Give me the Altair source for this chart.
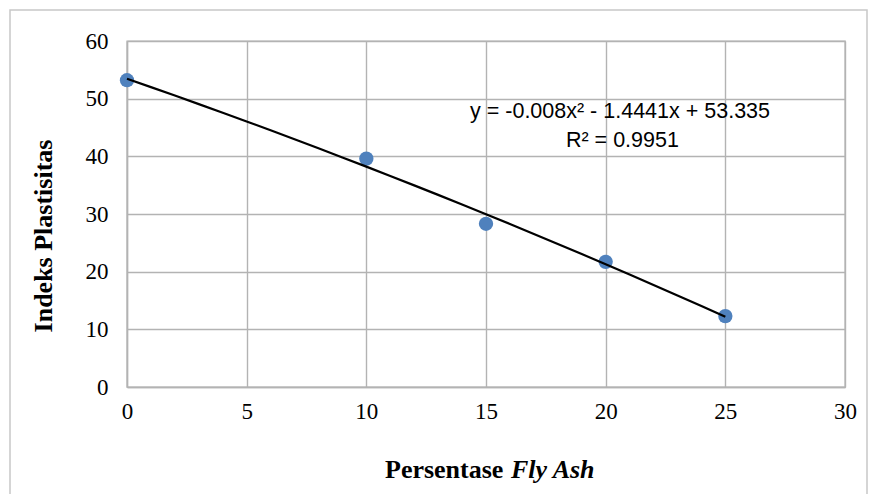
import altair as alt
import pandas as pd

# Data
fly_ash = [0, 10, 15, 20, 25]
indeks = [53.2, 39.6, 28.3, 21.7, 12.3]
x_ticks = [0, 5, 10, 15, 20, 25, 30]
y_ticks = [0, 10, 20, 30, 40, 50, 60]
eq_lines = ["y = -0.008x² - 1.4441x + 53.335", "R² = 0.9951"]
eq_x = [20.6, 20.7]
eq_y = [47.7, 42.7]
y_title = ["Indeks Plastisitas"]
x_title_a = ["Persentase"]
x_title_b = ["Fly Ash"]

df = pd.DataFrame({"x": fly_ash, "y": indeks})
eq = pd.DataFrame({"t": eq_lines, "x": eq_x, "y": eq_y})

GRID = "#B3B3B3"
SERIF = "Liberation Serif"

xs = alt.Scale(domain=[0, 30], nice=False, zero=False)
ys = alt.Scale(domain=[0, 60], nice=False, zero=False)

x_axis = alt.Axis(values=x_ticks, title=None, grid=True, gridColor=GRID, gridWidth=1.4,
                  ticks=False, domainColor=GRID, domainWidth=1.4,
                  labelFont=SERIF, labelFontSize=23, labelColor="black",
                  labelPadding=13, labelFlush=False)
y_axis = alt.Axis(values=y_ticks, title=None, grid=True, gridColor=GRID, gridWidth=1.4,
                  ticks=False, domainColor=GRID, domainWidth=1.4,
                  labelFont=SERIF, labelFontSize=23, labelColor="black",
                  labelPadding=19, labelFlush=False)

base = alt.Chart(df)

points = base.mark_circle(size=205, color="#4F81BD", opacity=1).encode(
    x=alt.X("x:Q", scale=xs, axis=x_axis),
    y=alt.Y("y:Q", scale=ys, axis=y_axis),
)

trend = base.transform_regression(
    "x", "y", method="poly", order=2, extent=[0, 25]
).mark_line(color="black", strokeWidth=2.2).encode(
    x=alt.X("x:Q", scale=xs),
    y=alt.Y("y:Q", scale=ys),
)

eq_text = alt.Chart(eq).mark_text(
    font="Liberation Sans", fontSize=21.5, color="black", align="center", baseline="middle"
).encode(
    x=alt.X("x:Q", scale=xs),
    y=alt.Y("y:Q", scale=ys),
    text="t:N",
)

ytitle = alt.Chart(pd.DataFrame({"t": y_title})).mark_text(
    font=SERIF, fontSize=26, fontWeight="bold", angle=270, color="black",
    align="center", baseline="middle"
).encode(x=alt.value(-83), y=alt.value(195), text="t:N")

xtitle_a = alt.Chart(pd.DataFrame({"t": x_title_a})).mark_text(
    font=SERIF, fontSize=26, fontWeight="bold", color="black",
    align="left", baseline="alphabetic"
).encode(x=alt.value(258), y=alt.value(437), text="t:N")

xtitle_b = alt.Chart(pd.DataFrame({"t": x_title_b})).mark_text(
    font=SERIF, fontSize=26, fontWeight="bold", fontStyle="italic", color="black",
    align="left", baseline="alphabetic"
).encode(x=alt.value(384), y=alt.value(437), text="t:N")

border = alt.Chart(pd.DataFrame({"t": [0]})).mark_rect(
    filled=False, stroke="#C8C8C8", strokeWidth=1.5
).encode(x=alt.value(-117), x2=alt.value(740), y=alt.value(-31), y2=alt.value(480))

chart = alt.layer(border, points, trend, eq_text, ytitle, xtitle_a, xtitle_b).properties(
    width=718, height=346,
    autosize=alt.AutoSizeParams(type="none"),
    padding={"left": 127, "top": 41, "right": 28, "bottom": 107},
    background="white",
).configure_view(stroke=GRID, strokeWidth=1.4)

chart.save("out.html", embed_options={"renderer": "svg", "actions": False})
